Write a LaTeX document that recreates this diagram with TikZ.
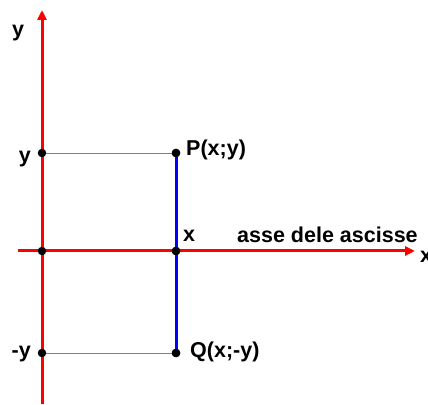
\documentclass[tikz,border=0pt]{standalone}
\usepackage{fontspec}
\setmainfont{Liberation Sans}
\usepackage{xcolor}
\definecolor{axred}{HTML}{FF0000}
\definecolor{segblue}{HTML}{0000FF}
\usetikzlibrary{arrows.meta,positioning}
\tikzset{
  ax/.style={draw=axred, line width=3pt, -{Triangle[length=10pt,width=9pt]}},
  seg/.style={draw=segblue, line width=3pt},
  proj/.style={draw=black!50, line width=0.8pt},
  pt/.style={circle, fill=black, inner sep=0pt, minimum size=8.5pt},
  lb/.style={font=\fontsize{21.5}{25}\selectfont\bfseries, inner sep=0pt},
}

\begin{document}
\begin{tikzpicture}[x=1pt,y=1pt]
  \useasboundingbox (0,0) rectangle (428,404);
  % axes
  \coordinate (ybot) at (42,0);
  \coordinate (ytop) at (42,394);
  \coordinate (xleft) at (18,153);
  \coordinate (xright) at (415,153);
  \draw[ax] (ybot) -- (ytop);
  \draw[ax] (xleft) -- (xright);
  % points
  \node[pt] (o) at (42,153) {};
  \node[pt] (px) at (176,153) {};
  \node[pt] (p) at (176,251) {};
  \node[pt] (q) at (176,51) {};
  \node[pt] (py) at (42,251) {};
  \node[pt] (qy) at (42,51) {};
  \draw[proj] (py) -- (p);
  \draw[proj] (qy) -- (q);
  \draw[seg] (p) -- (q);
  \node[pt] at (px) {};
  \node[pt] at (p) {};
  \node[pt] at (q) {};
  % labels
  \node[lb] (ylab) at (18,371) {y};
  \node[lb, anchor=west] (xlab) at (420,147) {x};
  \node[lb, anchor=east] (yval) at (31,245) {y};
  \node[lb, anchor=east] (myval) at (31,50) {-y};
  \node[lb, anchor=west] (plab) at (186,254) {P(x;y)};
  \node[lb, anchor=west] (qlab) at (190,52) {Q(x;-y)};
  \node[lb, anchor=west] (xval) at (183,168) {x};
  \node[lb, anchor=west] (name) at (237,169) {asse dele ascisse};
\end{tikzpicture}
\end{document}
